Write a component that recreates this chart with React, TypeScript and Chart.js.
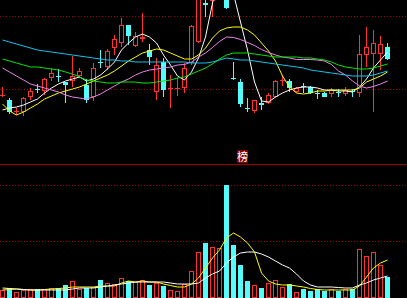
import { useEffect, useRef } from "react";
import { Chart, registerables } from "chart.js";

Chart.register(...registerables);

// ---- price data (one entry per trading day) ----
const opens = [10.4, 10.0, 8.8, 8.8, 10.3, 11.1, 10.9, 12.2, 12.4, 11.8, 11.9, 12.4, 11.5, 10.3, 13.8, 13.3, 15.2, 15.7, 17.5, 15.4, 16.1, 15.0, 10.8, 13.8, 11.1, 11.1, 11.2, 13.7, 15.8, 19.7, 19.9, 23.5, 24.5, 12.2, 11.8, 9.2, 8.9, 9.7, 9.7, 10.3, 11.9, 11.9, 10.8, 11.4, 11.3, 10.7, 10.7, 10.6, 10.8, 10.6, 10.9, 10.7, 14.5, 14.6, 14.6, 15.3];
const highs = [11.3, 10.2, 9.2, 10.3, 11.2, 11.6, 12.2, 13.2, 13.1, 11.8, 14.4, 13.2, 12.1, 13.7, 15.0, 15.1, 16.5, 18.2, 17.5, 16.8, 18.7, 15.6, 14.2, 14.2, 12.5, 12.2, 13.7, 17.5, 23.6, 20.4, 23.6, 25.5, 25.0, 13.8, 12.1, 10.2, 10.0, 10.3, 10.7, 12.0, 12.5, 12.1, 11.3, 11.7, 11.4, 11.0, 10.8, 11.2, 11.1, 11.3, 11.1, 16.5, 17.3, 17.0, 16.4, 15.7];
const lows = [10.3, 8.6, 8.5, 8.4, 10.0, 10.7, 10.5, 11.9, 11.8, 9.7, 11.3, 12.2, 9.7, 9.9, 13.2, 13.0, 14.5, 15.3, 15.5, 15.3, 15.8, 13.5, 10.0, 10.3, 9.2, 10.4, 10.7, 13.5, 15.7, 18.3, 18.3, 23.0, 19.1, 12.0, 9.3, 8.8, 8.7, 9.0, 9.6, 10.2, 11.4, 10.8, 10.7, 10.7, 10.6, 10.1, 10.3, 10.3, 10.3, 10.4, 10.3, 10.3, 13.3, 8.8, 13.0, 14.0];
const closes = [10.5, 8.8, 8.9, 10.2, 10.9, 11.0, 12.1, 12.7, 12.3, 11.5, 12.4, 12.9, 10.0, 13.2, 13.7, 14.9, 16.1, 17.5, 16.4, 16.4, 16.3, 14.3, 13.5, 11.0, 11.2, 11.2, 13.2, 17.4, 23.2, 19.5, 23.1, 25.0, 19.2, 12.1, 9.6, 9.1, 10.0, 9.5, 10.5, 11.9, 12.0, 11.2, 11.2, 11.3, 10.7, 10.6, 10.3, 11.0, 10.7, 11.0, 10.8, 14.6, 15.3, 15.7, 15.6, 14.1];

// ---- moving averages as drawn ----
const ma5 = [9.0, 9.2, 9.3, 9.5, 9.8, 10.1, 10.7, 11.2, 11.6, 11.9, 12.1, 12.3, 11.9, 12.1, 12.5, 13.1, 13.8, 15.0, 15.7, 16.3, 16.6, 16.3, 15.7, 14.5, 13.5, 12.4, 12.0, 12.8, 14.2, 16.3, 19.7, 22.5, 22.0, 20.6, 17.8, 15.0, 11.8, 9.9, 9.8, 10.3, 10.7, 11.0, 11.2, 11.3, 11.3, 11.2, 11.0, 11.0, 10.9, 10.9, 10.8, 11.3, 12.1, 13.2, 14.0, 14.8];
const ma10 = [9.6, 8.9, 8.5, 8.8, 9.2, 9.6, 10.1, 10.4, 10.7, 10.9, 11.1, 11.3, 11.6, 11.9, 12.2, 12.5, 12.9, 13.4, 13.9, 14.3, 14.7, 14.9, 15.1, 15.0, 14.7, 14.4, 14.1, 14.1, 14.5, 15.2, 16.2, 16.9, 17.2, 17.3, 17.3, 17.0, 16.5, 15.7, 14.9, 13.9, 12.4, 11.3, 10.7, 10.6, 10.7, 10.9, 10.9, 11.0, 11.0, 11.0, 11.0, 11.2, 11.8, 12.1, 12.4, 12.8];
const ma20 = [13.2, 12.8, 12.4, 12.0, 11.6, 11.4, 11.2, 11.0, 10.8, 10.5, 10.3, 10.2, 10.1, 10.3, 10.6, 11.0, 11.4, 11.8, 12.1, 12.5, 12.8, 13.0, 13.1, 13.2, 13.3, 13.5, 13.55, 13.8, 14.3, 14.7, 15.25, 15.85, 16.3, 16.25, 16.05, 15.75, 15.45, 15.05, 14.75, 14.5, 14.3, 14.2, 14.05, 14.05, 14.05, 14.0, 13.9, 13.55, 12.9, 12.5, 11.9, 11.4, 11.2, 11.35, 11.6, 11.9];
const ma30 = [14.1, 13.9, 13.7, 13.5, 13.3, 13.3, 13.2, 13.1, 13.0, 12.8, 12.6, 12.3, 12.0, 11.9, 11.8, 11.7, 11.7, 11.8, 11.8, 11.8, 11.7, 11.7, 11.8, 11.9, 12.0, 12.2, 12.3, 12.6, 12.9, 13.2, 13.6, 14.1, 14.5, 14.7, 14.7, 14.7, 14.6, 14.5, 14.4, 14.3, 14.3, 14.3, 14.3, 14.2, 14.2, 14.1, 14.0, 13.8, 13.5, 13.3, 13.2, 13.1, 13.1, 13.2, 13.4, 13.6];
const ma60 = [16.0, 15.8, 15.6, 15.4, 15.2, 15.0, 14.9, 14.8, 14.7, 14.6, 14.5, 14.4, 14.3, 14.2, 14.1, 14.0, 14.0, 13.9, 13.9, 13.8, 13.8, 13.8, 13.8, 13.8, 13.8, 13.8, 13.8, 13.7, 13.7, 13.7, 13.8, 14.0, 14.2, 14.1, 14.0, 14.0, 13.9, 13.8, 13.7, 13.6, 13.5, 13.4, 13.3, 13.2, 13.0, 12.9, 12.8, 12.7, 12.6, 12.5, 12.4, 12.4, 12.4, 12.5, 12.7, 12.9];

// ---- volume ----
const volumes = [800, 1000, 600, 800, 900, 900, 900, 1000, 1000, 1300, 1700, 900, 1000, 1100, 1800, 1500, 1400, 2000, 1700, 1600, 1800, 1300, 1500, 1200, 800, 700, 1400, 2700, 4600, 5500, 5100, 5000, 11300, 5300, 3300, 1700, 1300, 1000, 1500, 1800, 1100, 1400, 600, 900, 700, 900, 700, 900, 700, 900, 900, 4900, 4200, 4600, 3300, 2100];
const volMa5 = [800, 850, 900, 850, 800, 800, 850, 900, 950, 1000, 1100, 1100, 1100, 1100, 1200, 1200, 1200, 1500, 1700, 1600, 1700, 1600, 1600, 1400, 1250, 1100, 1100, 1400, 2000, 3000, 4000, 4800, 6000, 6500, 6100, 5500, 4600, 2500, 1700, 1400, 1300, 1300, 1200, 1100, 950, 850, 800, 800, 800, 800, 800, 1200, 2100, 3000, 3500, 3800];
const volMa10 = [1000, 950, 900, 850, 800, 800, 800, 800, 800, 800, 900, 1000, 1000, 1000, 1100, 1200, 1300, 1400, 1500, 1600, 1600, 1600, 1600, 1600, 1500, 1400, 1400, 1400, 1500, 2000, 2400, 2700, 3500, 4100, 4500, 4600, 4600, 4400, 4100, 3700, 3300, 3000, 2400, 1700, 1300, 1100, 1100, 1100, 1050, 1000, 1000, 1300, 1500, 1800, 2000, 2200];

// ---- reference levels (dotted lines) ----
const priceLevels = [11.0, 18.4];
const volumeLevels = [5700, 11300];
const panelLabel = "榜";

const RED = "#ff3232";
const CYAN = "#54fcfc";
const GRID = "#a00000";

const W = 407;
const TOP_H = 140;
const BOT_TOP = 165;
const BOT_H = 298 - BOT_TOP;

export default function App() {
  const topRef = useRef<HTMLCanvasElement>(null);
  const botRef = useRef<HTMLCanvasElement>(null);

  useEffect(() => {
    const idx = closes.map((_, i) => i);
    const up = idx.map((i) => closes[i] >= opens[i]);
    const colors = idx.map((i) => (up[i] ? RED : CYAN));
    const fills = idx.map((i) => (up[i] ? "#000000" : CYAN));
    const xMin = -2.5 / 7;
    const xScale: any = { type: "linear", display: false, offset: false, min: xMin, max: xMin + W / 7 };

    const line = (vals: number[], color: string) => ({
      type: "line" as const,
      data: idx.map((i) => ({ x: i, y: vals[i] })),
      borderColor: color,
      borderWidth: 1,
      pointRadius: 0,
      tension: 0,
      fill: false,
      order: 0,
    });

    const yGrid = (levels: number[]) => ({
      display: true,
      ticks: { display: false },
      grid: { color: GRID, drawTicks: false, lineWidth: 1 },
      border: { display: false, dash: [1, 2] },
      afterBuildTicks: (ax: any) => {
        ax.ticks = levels.map((v) => ({ value: v }));
      },
    });

    const common: any = {
      responsive: false,
      animation: false,
      events: [],
      layout: { padding: 0 },
      plugins: { legend: { display: false }, tooltip: { enabled: false } },
    };

    const top = new Chart(topRef.current!, {
      type: "bar",
      data: {
        datasets: [
          line(ma60, "#10c4f0"),
          line(ma30, "#00e600"),
          line(ma20, "#ee82ee"),
          line(ma10, "#ffff00"),
          line(ma5, "#ffffff"),
          {
            type: "bar",
            data: idx.map((i) => ({ x: i, y: [opens[i], closes[i]] })),
            backgroundColor: fills,
            borderColor: colors,
            borderWidth: 1,
            borderSkipped: false,
            barThickness: 5,
            inflateAmount: 0,
            grouped: false,
            order: 1,
          } as any,
          {
            type: "bar",
            data: idx.map((i) => ({ x: i, y: [lows[i], highs[i]] })),
            backgroundColor: colors,
            borderWidth: 0,
            barThickness: 1,
            inflateAmount: 0,
            grouped: false,
            order: 2,
          } as any,
        ],
      },
      options: {
        ...common,
        scales: {
          x: xScale,
          y: { min: 6, max: 20, ...yGrid(priceLevels) },
        },
      },
    });

    const bot = new Chart(botRef.current!, {
      type: "bar",
      data: {
        datasets: [
          line(volMa10, "#ffffff"),
          line(volMa5, "#ffff00"),
          {
            type: "bar",
            data: idx.map((i) => ({ x: i, y: volumes[i] })),
            backgroundColor: fills,
            borderColor: colors,
            borderWidth: 1,
            borderSkipped: false,
            barThickness: 5,
            inflateAmount: 0,
            grouped: false,
            order: 1,
          } as any,
        ],
      },
      options: {
        ...common,
        scales: {
          x: xScale,
          y: { min: 0, max: BOT_H * 100, ...yGrid(volumeLevels) },
        },
      },
    });

    return () => {
      top.destroy();
      bot.destroy();
    };
  }, []);

  return (
    <div style={{ position: "absolute", left: 0, top: 0, width: W, height: 298, background: "#000", overflow: "hidden" }}>
      <canvas ref={topRef} width={W} height={TOP_H} style={{ position: "absolute", left: 0, top: 0, width: W, height: TOP_H }} />
      <div
        style={{
          position: "absolute",
          left: 237,
          top: 150,
          width: 11,
          height: 13,
          background: "#800000",
          color: "#ffffff",
          fontFamily: '"Noto Sans CJK SC", sans-serif',
          fontSize: 11,
          lineHeight: "13px",
          textAlign: "center",
        }}
      >
        {panelLabel}
      </div>
      <div style={{ position: "absolute", left: 0, top: 164, width: W, height: 1, background: "#a00000" }} />
      <canvas ref={botRef} width={W} height={BOT_H} style={{ position: "absolute", left: 0, top: BOT_TOP, width: W, height: BOT_H }} />
    </div>
  );
}
